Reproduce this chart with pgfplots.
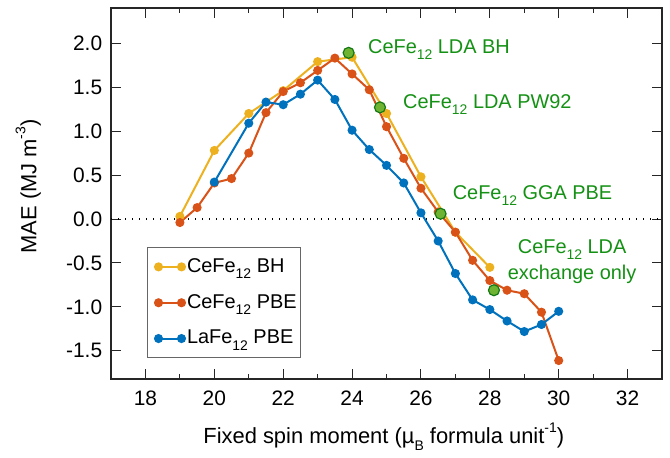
\documentclass[border=0pt]{standalone}
\usepackage{fontspec}
\setmainfont{Liberation Sans}
\usepackage{pgfplots}
\pgfplotsset{compat=1.18}
\definecolor{cY}{RGB}{237,177,32}
\definecolor{cR}{RGB}{217,83,25}
\definecolor{cB}{RGB}{0,114,189}
\definecolor{gT}{RGB}{20,145,20}
\definecolor{gF}{RGB}{110,180,50}
\definecolor{gE}{RGB}{20,120,20}
\newcommand{\sub}[1]{\raisebox{-0.6ex}{\fontsize{14}{14}\selectfont #1}}
\newcommand{\sups}[1]{\raisebox{0.95ex}{\fontsize{14}{14}\selectfont #1}}
\begin{document}
\fontsize{20}{24}\selectfont
\begin{tikzpicture}
\begin{axis}[
  scale only axis, width=551bp, height=371bp,
  xmin=17, xmax=33, ymin=-1.82, ymax=2.4,
  clip=false,
  xtick={18,20,...,32}, xticklabels={18,20,22,24,26,28,30,32},
  minor xtick={17,19,...,33},
  ytick={-1.5,-1,...,2}, yticklabels={-1.5,-1.0,-0.5,0.0,0.5,1.0,1.5,2.0},
  tick align=inside, major tick length=10bp, minor tick length=5bp,
  axis line style={line width=1.1bp, black!85},
  every tick/.style={line width=1bp, black!85},
  tick label style={font=\fontsize{21}{24}\selectfont},
  yticklabel style={xshift=-2bp},
  xticklabel style={yshift=-5bp},
  xlabel={Fixed spin moment (\textmu\sub{B} formula unit\sups{-1})},
  ylabel={MAE (MJ m\sups{-3})},
  label style={font=\fontsize{22}{26}\selectfont},
  xlabel style={at={(axis description cs:0.495,-0.156)}, anchor=center},
  ylabel style={at={(axis description cs:-0.15,0.519)}, anchor=center},
  legend style={at={(rel axis cs:0.0653,0.356)}, anchor=north west, draw=black!60, line width=1bp,
    font=\fontsize{20}{24}\selectfont, row sep=15bp, inner xsep=2bp, inner ysep=9bp},
  legend cell align=left,
  legend image code/.code={\path (-8bp,0bp); \draw[#1] plot coordinates {(0bp,0bp) (23bp,0bp)};},
]
\path (rel axis cs:-0.2015,-0.1887) rectangle (rel axis cs:1.0145,1.0216);
\addplot[black, line width=1.2bp, dash pattern=on 1.3bp off 5.7bp, forget plot] coordinates {(17,0) (33,0)};
\addplot[cY, line width=2bp, mark=*, mark size=3.5bp, mark options={solid, fill=cY, draw=cY}] coordinates {
(19,0.03) (20,0.78) (21,1.20) (22,1.46) (23,1.79) (24,1.84) (25,1.20) (26,0.48) (27,-0.15) (28,-0.55)};
\addlegendentry{CeFe\sub{12} BH}
\addplot[cR, line width=2bp, mark=*, mark size=3.5bp, mark options={solid, fill=cR, draw=cR}] coordinates {
(19,-0.04) (19.5,0.13) (20,0.41) (20.5,0.46) (21,0.75) (21.5,1.21) (22,1.45) (22.5,1.55) (23,1.69) (23.5,1.83) (24,1.65) (24.5,1.47) (25,1.05) (25.5,0.69) (26,0.35) (26.5,0.08) (27,-0.15) (27.5,-0.47) (28,-0.70) (28.5,-0.81) (29,-0.85) (29.5,-1.06) (30,-1.61)};
\addlegendentry{CeFe\sub{12} PBE}
\addplot[cB, line width=2bp, mark=*, mark size=3.5bp, mark options={solid, fill=cB, draw=cB}] coordinates {
(20,0.42) (21,1.09) (21.5,1.33) (22,1.30) (22.5,1.42) (23,1.58) (23.5,1.36) (24,1.01) (24.5,0.79) (25,0.61) (25.5,0.41) (26,0.07) (26.5,-0.25) (27,-0.62) (27.5,-0.92) (28,-1.03) (28.5,-1.16) (29,-1.28) (29.5,-1.20) (30,-1.05)};
\addlegendentry{LaFe\sub{12} PBE}
\addplot[only marks, mark=*, mark size=5.5bp, mark options={fill=gF, draw=gE, line width=1.2bp}, forget plot] coordinates {
(23.9,1.89) (24.81,1.27) (26.57,0.06) (28.12,-0.81)};
\node[gT, anchor=west, inner sep=0pt] at (axis cs:24.46,1.93) {CeFe\sub{12} LDA BH};
\node[gT, anchor=west, inner sep=0pt] at (axis cs:25.48,1.30) {CeFe\sub{12} LDA PW92};
\node[gT, anchor=west, inner sep=0pt] at (axis cs:26.92,0.27) {CeFe\sub{12} GGA PBE};
\node[gT, align=center, inner sep=0pt, text depth=0pt] at (axis cs:30.39,-0.46) {CeFe\sub{12} LDA\\[2bp]exchange only};
\end{axis}
\end{tikzpicture}
\end{document}
